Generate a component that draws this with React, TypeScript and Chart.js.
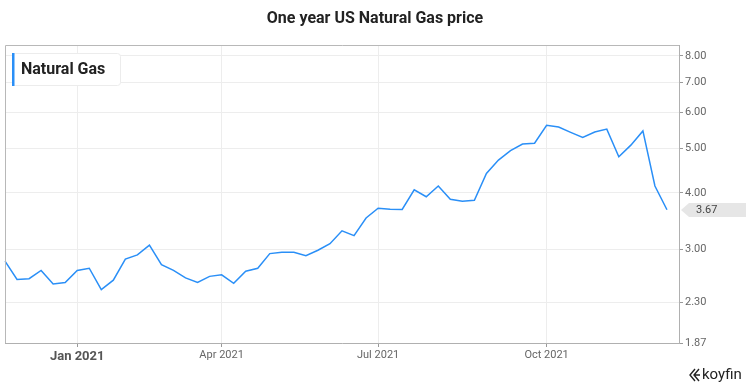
import React, { useEffect, useRef } from 'react';
import { Chart, registerables } from 'chart.js';

Chart.register(...registerables);

const chartTitle = 'One year US Natural Gas price';
const seriesName = 'Natural Gas';

// one label per weekly point (plus one empty slot at the right end)
const xLabels = [
  '', '', '', '', '', '', 'Jan 2021', '', '', '', '', '',
  '', '', '', '', '', '', 'Apr 2021', '', '', '', '', '',
  '', '', '', '', '', '', '', 'Jul 2021', '', '', '', '',
  '', '', '', '', '', '', '', '', '', 'Oct 2021', '', '',
  '', '', '', '', '', '', '', '', '',
];

const gasPrices = [
  2.83, 2.58, 2.59, 2.70, 2.52, 2.54, 2.70, 2.73, 2.45, 2.57,
  2.86, 2.92, 3.07, 2.78, 2.70, 2.60, 2.54, 2.62, 2.64, 2.53,
  2.69, 2.73, 2.94, 2.96, 2.96, 2.91, 2.99, 3.09, 3.30, 3.22,
  3.52, 3.70, 3.68, 3.675, 4.06, 3.92, 4.14, 3.87, 3.83, 3.85,
  4.41, 4.72, 4.95, 5.12, 5.14, 5.63, 5.58, 5.43, 5.29, 5.44,
  5.52, 4.80, 5.09, 5.47, 4.14, 3.67,
];

const yTicks = [1.87, 2.3, 3, 4, 5, 6, 7, 8];
const yMin = 1.87;
const yMax = 8.45;

const FONT = 'Roboto, "Noto Sans", sans-serif';

const decor = {
  id: 'decor',
  afterDraw(chart: any) {
    const { ctx, chartArea: a, scales } = chart;
    ctx.save();
    // box border (left + top)
    ctx.strokeStyle = '#b8b8b8';
    ctx.lineWidth = 1;
    ctx.beginPath();
    ctx.moveTo(a.left + 0.5, a.bottom);
    ctx.lineTo(a.left + 0.5, a.top + 0.5);
    ctx.lineTo(a.right, a.top + 0.5);
    ctx.stroke();

    // title
    ctx.fillStyle = '#222';
    ctx.font = `bold 16px ${FONT}`;
    ctx.textAlign = 'center';
    ctx.textBaseline = 'middle';
    ctx.fillText(chartTitle, 375, 19);

    // legend box
    const lx = a.left + 7, ly = a.top + 8, lw = 108, lh = 32;
    ctx.fillStyle = '#ffffff';
    ctx.strokeStyle = '#ececec';
    ctx.beginPath();
    ctx.roundRect(lx + 0.5, ly + 0.5, lw, lh, 3);
    ctx.fill();
    ctx.stroke();
    ctx.fillStyle = '#2a8ff7';
    ctx.fillRect(lx, ly, 2.5, lh + 1);
    ctx.fillStyle = '#222';
    ctx.font = `bold 16px ${FONT}`;
    ctx.textAlign = 'left';
    ctx.textBaseline = 'middle';
    ctx.fillText(seriesName, lx + 9, ly + lh / 2 + 1);

    // last value tag
    const last = gasPrices[gasPrices.length - 1];
    const y = Math.round(scales.y.getPixelForValue(last));
    const x0 = a.right + 2;
    ctx.fillStyle = '#e6e6e6';
    ctx.beginPath();
    ctx.moveTo(x0, y);
    ctx.lineTo(x0 + 8, y - 7);
    ctx.lineTo(chart.width - 4, y - 7);
    ctx.lineTo(chart.width - 4, y + 7);
    ctx.lineTo(x0 + 8, y + 7);
    ctx.closePath();
    ctx.fill();
    ctx.fillStyle = '#444';
    ctx.font = `11px ${FONT}`;
    ctx.textAlign = 'left';
    ctx.fillText(last.toFixed(2), x0 + 15, y + 0.5);

    // koyfin logo
    const gx = 690, gy = 375;
    ctx.strokeStyle = '#222';
    ctx.lineWidth = 1.4;
    ctx.beginPath();
    ctx.moveTo(gx + 5, gy - 6); ctx.lineTo(gx, gy); ctx.lineTo(gx + 5, gy + 6);
    ctx.moveTo(gx + 9, gy - 6); ctx.lineTo(gx + 4, gy); ctx.lineTo(gx + 9, gy + 6);
    ctx.moveTo(gx + 5, gy); ctx.lineTo(gx + 10, gy);
    ctx.stroke();
    ctx.fillStyle = '#222';
    ctx.font = `15px ${FONT}`;
    ctx.textAlign = 'left';
    ctx.textBaseline = 'middle';
    ctx.fillText('koyfin', gx + 12, gy);
    ctx.restore();
  },
};

export default function App() {
  const ref = useRef<HTMLCanvasElement>(null);

  useEffect(() => {
    if (!ref.current) return;
    const chart = new Chart(ref.current, {
      type: 'line',
      data: {
        labels: xLabels,
        datasets: [
          {
            label: seriesName,
            data: gasPrices,
            borderColor: '#2a8ff7',
            borderWidth: 1.5,
            pointRadius: 0,
            tension: 0,
            fill: false,
          },
        ],
      },
      options: {
        responsive: false,
        animation: false,
        devicePixelRatio: 1,
        layout: { padding: { left: 5, top: 45, right: 0, bottom: 0 } },
        plugins: {
          legend: { display: false },
          title: { display: false },
          tooltip: { enabled: false },
        },
        scales: {
          x: {
            type: 'category',
            offset: false,
            afterFit: (s: any) => { s.height = 44; },
            grid: { color: '#ededed', tickColor: '#999', tickLength: 4 },
            border: { color: '#b0b0b0' },
            ticks: {
              autoSkip: false,
              maxRotation: 0,
              padding: 2,
              callback: (_v: any, i: number) => (xLabels[i] ? xLabels[i] : null),
              color: (c: any) => (c.tick && c.tick.label === 'Jan 2021' ? '#555' : '#666'),
              font: (c: any) =>
                c.tick && c.tick.label === 'Jan 2021'
                  ? { family: FONT, size: 13, weight: 'bold' }
                  : { family: FONT, size: 11 },
            },
          },
          y: {
            type: 'logarithmic',
            position: 'right',
            min: yMin,
            max: yMax,
            afterFit: (s: any) => { s.width = 71; },
            afterBuildTicks: (s: any) => { s.ticks = yTicks.map((v) => ({ value: v })); },
            grid: { color: '#ededed', tickColor: '#999', tickLength: 4 },
            border: { color: '#b0b0b0' },
            ticks: {
              padding: 2,
              color: '#666',
              font: { family: FONT, size: 11 },
              callback: (v: any) => Number(v).toFixed(2),
            },
          },
        },
      },
      plugins: [decor],
    });
    return () => chart.destroy();
  }, []);

  return (
    <div style={{ position: 'absolute', left: 0, top: 0, width: 750, height: 387, background: '#fff' }}>
      <canvas ref={ref} width={750} height={387} />
    </div>
  );
}
